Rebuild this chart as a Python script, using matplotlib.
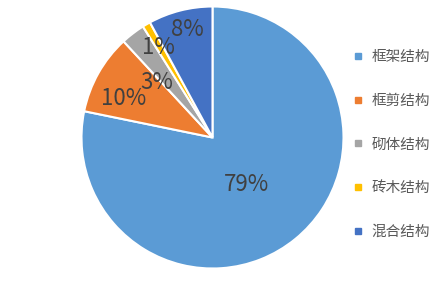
import matplotlib
matplotlib.use("Agg")
import matplotlib.pyplot as plt
import numpy as np
from matplotlib.lines import Line2D

plt.rcParams['font.family'] = ['Noto Sans CJK SC', 'DejaVu Sans']

categories = ['框架结构', '框剪结构', '砌体结构', '砖木结构', '混合结构']
values = [79, 10, 3, 1, 8]
pct_labels = ['79%', '10%', '3%', '1%', '8%']
colors = ['#5B9BD5', '#ED7D31', '#A5A5A5', '#FFC000', '#4472C4']
label_radius = [0.44, 0.74, 0.60, 0.80, 0.85]
label_angle_offset = [-3, 6, 8, 1, -1]

fig = plt.figure(figsize=(4.32, 2.81), dpi=100)
ax = fig.add_axes([212.5/432 - 131/432, (281-137.5)/281 - 131/281, 262/432, 262/281])
wedges, _ = ax.pie(values, colors=colors, startangle=90, counterclock=False,
                   wedgeprops=dict(edgecolor='white', linewidth=1.5))
ax.set_aspect('equal')
ax.set_xlim(-1, 1)
ax.set_ylim(-1, 1)

for w, lab, r, off in zip(wedges, pct_labels, label_radius, label_angle_offset):
    ang = np.deg2rad((w.theta1 + w.theta2) / 2 + off)
    ax.text(r*np.cos(ang), r*np.sin(ang), lab, ha='center', va='center',
            fontsize=16, color='#404040')

handles = [Line2D([], [], marker='s', linestyle='none', markersize=4.5,
                  markerfacecolor=c, markeredgecolor=c) for c in colors]
leg = fig.legend(handles, categories, loc='center left',
                 bbox_to_anchor=(348/432, 1 - 144.5/281), frameon=False,
                 fontsize=10.5, labelcolor='#595959', handlelength=0.6,
                 handletextpad=0.6, labelspacing=2.03, borderaxespad=0)

fig.savefig('out.png', dpi=100)
